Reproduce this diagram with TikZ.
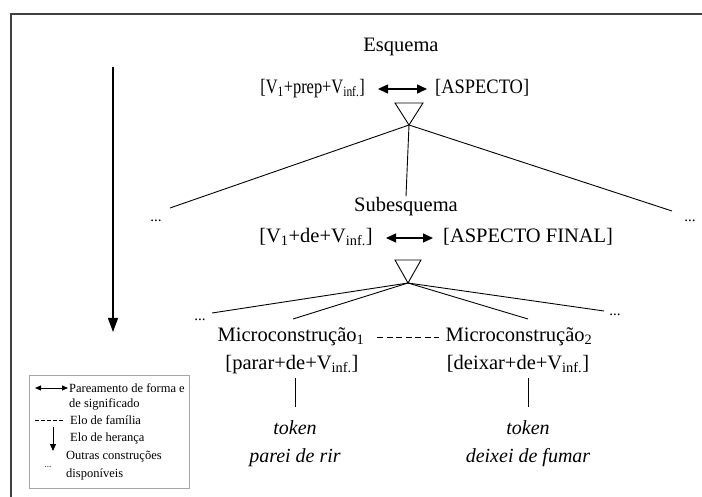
\documentclass[tikz,border=0pt]{standalone}
\usepackage{fontspec}
\setmainfont{Liberation Serif}
\usetikzlibrary{positioning, arrows.meta}
\tikzset{
  lbl/.style={font=\fontsize{20.5}{22}\selectfont, inner sep=1pt,
    text height=14pt, text depth=5pt},
  tok/.style={lbl, font=\fontsize{20}{22}\selectfont\itshape},
  key/.style={font=\fontsize{12.5}{14}\selectfont, inner sep=0pt, anchor=west},
  dots/.style={font=\fontsize{15}{15}\selectfont, inner sep=0pt},
  pair/.style={{Triangle[length=10pt,width=9pt]}-{Triangle[length=10pt,width=9pt]},
    line width=1.4pt},
  pairsm/.style={{Triangle[length=6pt,width=5pt]}-{Triangle[length=6pt,width=5pt]},
    line width=0.8pt},
  link/.style={line width=0.9pt},
  tri/.style={line width=0.9pt}
}

\begin{document}
\begin{tikzpicture}[x=1pt, y=-1pt]
  \useasboundingbox (0,0) rectangle (702,497);
  % frame
  \draw[line width=1.6pt, black!75] (11,497) -- (11,14) -- (702,14);

  % heranca
  \coordinate (inh0) at (113,67);
  \coordinate (inh1) at (113,332);
  \draw[-{Triangle[length=14pt,width=10pt]}, line width=1.3pt] (inh0) -- (inh1);

  % esquema
  \node[lbl] (esq) at (401,47) {Esquema};
  \node[lbl, anchor=east] (forma1) at (366,89)
    {\scalebox{0.8}[1]{[V\textsubscript{1}+prep+V\textsubscript{inf.}]}};
  \node[lbl, anchor=west] (sig1) at (434,89) {\scalebox{0.9}[1]{[ASPECTO]}};
  \draw[pair, shorten <=12pt, shorten >=7pt] (forma1.east) -- (sig1.west);
  \coordinate (t1l) at (395,103);
  \coordinate (t1r) at (423,103);
  \coordinate (t1a) at (409,125);
  \draw[tri] (t1l) -- (t1r) -- (t1a) -- cycle;

  % subesquema
  \node[lbl] (sub) at (406,207) {Subesquema};
  \node[lbl, anchor=east] (forma2) at (374,238)
    {[V\textsubscript{1}+de+V\textsubscript{inf.}]};
  \node[lbl, anchor=west] (sig2) at (442,238) {[ASPECTO FINAL]};
  \draw[pair, shorten <=12pt, shorten >=9pt] (forma2.east) -- (sig2.west);
  \coordinate (t2l) at (395,260);
  \coordinate (t2r) at (421,260);
  \coordinate (t2a) at (408,283);
  \draw[tri] (t2l) -- (t2r) -- (t2a) -- cycle;

  \node[dots] (dl1) at (156,221) {...};
  \node[dots] (dr1) at (690,221) {...};
  \coordinate (e1l) at (170,208);
  \coordinate (e1r) at (672,211);
  \draw[link] (t1a) -- (e1l);
  \draw[link] (t1a) -- (e1r);
  \draw[link] (t1a) -- (sub.north);

  % microconstrucoes
  \node[lbl] (micro1) at (291,337) {Microconstrução\textsubscript{1}};
  \node[lbl] (micro2) at (519,337) {Microconstrução\textsubscript{2}};
  \node[lbl] (par1) at (292,365) {[parar+de+V\textsubscript{inf.}]};
  \node[lbl] (par2) at (518,365) {[deixar+de+V\textsubscript{inf.}]};
  \draw[link, dash pattern=on 6pt off 3.5pt, shorten <=12pt, shorten >=6pt]
    (micro1) -- (micro2);
  \node[dots] (dl2) at (200,320) {...};
  \node[dots] (dr2) at (615,315) {...};
  \coordinate (e2a) at (212,313);
  \coordinate (e2b) at (293,319);
  \coordinate (e2c) at (528,319);
  \coordinate (e2d) at (604,311);
  \foreach \e in {e2a, e2b, e2c, e2d}
    \draw[link] (t2a) -- (\e);

  % tokens
  \node[tok] (tok1) at (295,430) {token};
  \node[tok] (ex1) at (295,458) {parei de rir};
  \node[tok] (tok2) at (528,430) {token};
  \node[tok] (ex2) at (528,458) {deixei de fumar};
  \coordinate (v1t) at (295,378);
  \coordinate (v1b) at (295,407);
  \coordinate (v2t) at (528,378);
  \coordinate (v2b) at (528,407);
  \draw[link] (v1t) -- (v1b);
  \draw[link] (v2t) -- (v2b);

  % legenda
  \draw[gray!70, line width=0.8pt] (29,375) rectangle (189,488);
  \coordinate (k1a) at (35,388);
  \coordinate (k1b) at (68,388);
  \draw[pairsm] (k1a) -- (k1b);
  \node[key] (key1) at (69,388) {Pareamento de forma e};
  \node[key] (key1b) at (69,404) {de significado};
  \coordinate (k2a) at (35,420);
  \coordinate (k2b) at (63,420);
  \draw[line width=0.8pt, dash pattern=on 3.5pt off 2.5pt] (k2a) -- (k2b);
  \node[key] (key2) at (70,420) {Elo de família};
  \coordinate (k3a) at (53,427);
  \coordinate (k3b) at (53,451);
  \draw[-{Triangle[length=7pt,width=6pt]}, line width=0.8pt] (k3a) -- (k3b);
  \node[key] (key3) at (70,438) {Elo de herança};
  \node[key] (key4) at (66,457) {Outras construções};
  \node[dots, font=\fontsize{9}{9}\selectfont] (key5d) at (48,467) {...};
  \node[key] (key5) at (66,474) {disponíveis};
\end{tikzpicture}
\end{document}
